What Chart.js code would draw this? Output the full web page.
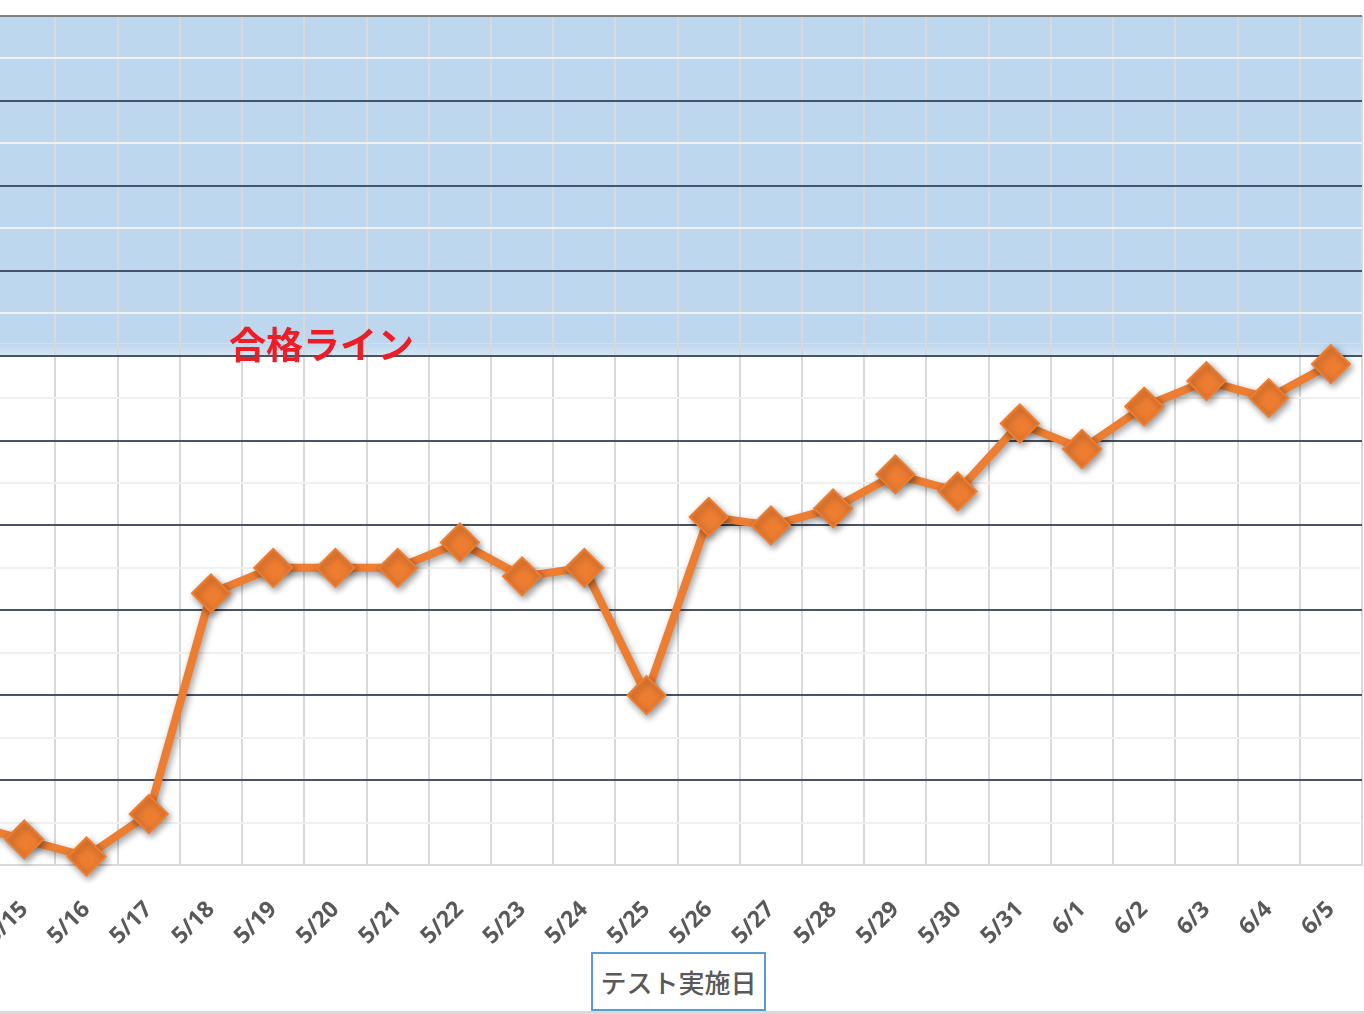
<!DOCTYPE html>
<html>
<head>
<meta charset="utf-8">
<script src="https://cdn.jsdelivr.net/npm/chart.js@4.4.1/dist/chart.umd.min.js"></script>
<style>
  html, body { margin: 0; padding: 0; background: #fff; overflow: hidden; }
  #wrap { position: relative; width: 1364px; height: 1014px; overflow: hidden; }
  /* the marker overflow padding (~20px) keeps the plot top at 20, so lift the canvas a bit */
  #box { position: absolute; left: -169px; top: -5px; width: 1552px; height: 1016px; }
  #passLabel {
    position: absolute; left: 229px; top: 321px;
    font-family: "Noto Sans CJK JP", sans-serif; font-weight: 700;
    font-size: 37px; color: #EE1C25; white-space: nowrap; line-height: 44px;
  }
  #axisTitle {
    position: absolute; left: 591px; top: 952px; width: 171px; height: 55px;
    border: 2px solid #5B9BD5; background: #fff; box-sizing: content-box;
    font-family: "Noto Sans CJK JP", sans-serif; font-size: 26px; font-weight: 500; color: #595959;
    text-align: center; line-height: 55px;
  }
  #bottomLine { position: absolute; left: 0; top: 1011px; width: 1364px; height: 3px; background: #D9D9D9; }
</style>
</head>
<body>
<div id="wrap">
  <div id="box"><canvas id="chart"></canvas></div>
  <div id="passLabel">合格ライン</div>
  <div id="axisTitle">テスト実施日</div>
  <div id="bottomLine"></div>
</div>
<script>
// test dates (5/14 sits just off the left edge, like the cropped original)
var dates = ['5/14', '5/15', '5/16', '5/17', '5/18', '5/19', '5/20', '5/21', '5/22', '5/23',
  '5/24', '5/25', '5/26', '5/27', '5/28', '5/29', '5/30', '5/31', '6/1', '6/2', '6/3', '6/4', '6/5'];

// score per test day
var scores = [5, 3, 1, 6, 32, 35, 35, 35, 38, 34, 35, 20, 41, 40, 42, 46, 44, 52, 49, 54, 57, 55, 59];

// y axis range, step (minor lines every 5, major every 10) and the pass line
var yMin = 0;
var yMax = 100;
var yStep = 5;
var passLine = 60;

var orange = '#ED7D31';

// blue band above the pass line, drawn before the grid so the grid stays on top
var passBand = {
  id: 'passBand',
  beforeDraw: function (chart) {
    var ctx = chart.ctx;
    var area = chart.chartArea;
    var y = chart.scales.y;
    var top = y.getPixelForValue(yMax);
    var bottom = y.getPixelForValue(passLine);
    ctx.save();
    var grad = ctx.createLinearGradient(0, bottom - 12, 0, bottom);
    grad.addColorStop(0, '#BDD7EE');
    grad.addColorStop(1, '#D6E6F4');
    ctx.fillStyle = '#BDD7EE';
    ctx.fillRect(area.left, top, area.right - area.left, bottom - top - 12);
    ctx.fillStyle = grad;
    ctx.fillRect(area.left, bottom - 12, area.right - area.left, 12);
    ctx.restore();
  }
};

// soft drop shadow under the line and markers
var lineShadow = {
  id: 'lineShadow',
  beforeDatasetDraw: function (chart) {
    var ctx = chart.ctx;
    ctx.save();
    ctx.shadowColor = 'rgba(0,0,0,0.4)';
    ctx.shadowBlur = 7;
    ctx.shadowOffsetX = 2;
    ctx.shadowOffsetY = 3;
  },
  afterDatasetDraw: function (chart) {
    chart.ctx.restore();
  }
};

function yGridColor(c) {
  var v = c.tick.value;
  if (v === yMax) return '#808080';
  if (v === yMin) return '#D9D9D9';
  if (v % 10 === 0) return '#44546A';
  return '#F0F0F0';
}

var ctx = document.getElementById('chart');
new Chart(ctx, {
  type: 'line',
  data: {
    labels: dates,
    datasets: [{
      label: 'score',
      data: scores,
      borderColor: orange,
      backgroundColor: orange,
      borderWidth: 8,
      tension: 0,
      pointStyle: 'rectRot',
      pointRadius: 19,
      pointBorderWidth: 2,
      pointBorderColor: orange,
      pointBackgroundColor: orange,
      clip: false
    }]
  },
  options: {
    responsive: true,
    maintainAspectRatio: false,
    animation: false,
    events: [],
    layout: { padding: { top: 11, right: 0, bottom: 0, left: 0 } },
    plugins: {
      legend: { display: false },
      title: { display: false },
      tooltip: { enabled: false }
    },
    scales: {
      x: {
        offset: true,
        grid: { offset: true, color: '#D9D9D9', lineWidth: 2, drawTicks: false },
        border: { display: true, color: '#D9D9D9', width: 2 },
        ticks: {
          minRotation: 45,
          maxRotation: 45,
          padding: 31,
          color: '#595959',
          font: { family: '"Open Sans", sans-serif', size: 23, weight: '700' }
        },
        afterFit: function (s) { s.height = 146; }
      },
      y: {
        min: yMin,
        max: yMax,
        ticks: { stepSize: yStep, display: false },
        grid: { color: yGridColor, lineWidth: 2, drawTicks: false },
        border: { display: false },
        afterFit: function (s) { s.width = 100; }
      }
    }
  },
  plugins: [passBand, lineShadow]
});
</script>
</body>
</html>
